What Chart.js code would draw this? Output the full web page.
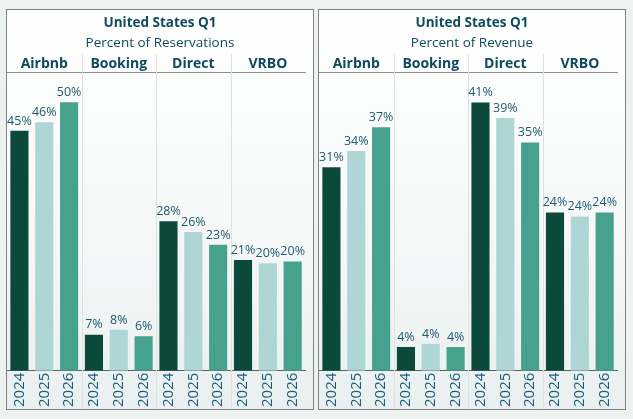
<!DOCTYPE html>
<html>
<head>
<meta charset="utf-8">
<script src="https://cdn.jsdelivr.net/npm/chart.js@4.4.1/dist/chart.umd.min.js"></script>
<style>
  html, body { margin: 0; padding: 0; }
  body { width: 633px; height: 419px; background: #edf1f0; position: relative; overflow: hidden; }
  .panel { position: absolute; top: 9px; width: 308px; height: 401px; box-sizing: border-box;
           border: 1px solid #7f8382;
           background: linear-gradient(to bottom, #ffffff 0%, #f6f8f8 55%, #e9f0ef 100%); }
  .panel canvas { display: block; }
  #p1 { left: 6px; }
  #p2 { left: 318px; }
</style>
</head>
<body>
<div class="panel" id="p1"><canvas id="c1" width="306" height="399"></canvas></div>
<div class="panel" id="p2"><canvas id="c2" width="306" height="399"></canvas></div>
<script>
// ---- data ----
const categories = ['Airbnb', 'Booking', 'Direct', 'VRBO'];
const years = ['2024', '2025', '2026'];
const chartTitle = 'United States Q1';
const subtitleReservations = 'Percent of Reservations';
const subtitleRevenue = 'Percent of Revenue';

// Percent of Reservations (per category, years 2024..2026)
const resAirbnb  = [44.6, 46.2, 49.9];
const resBooking = [6.7, 7.6, 6.4];
const resDirect  = [27.8, 25.8, 23.4];
const resVRBO    = [20.6, 20.0, 20.3];

// Percent of Revenue
const revAirbnb  = [31.0, 33.5, 37.1];
const revBooking = [3.6, 4.1, 3.6];
const revDirect  = [40.9, 38.5, 34.8];
const revVRBO    = [24.1, 23.5, 24.1];

const yearColors = ['#0b4a3b', '#aed6d5', '#47a28d'];

const FONT = "'Open Sans', 'Noto Sans', sans-serif";
const TEXT = '#0f4b5e';
const YEARTEXT = '#1a5f7e';

const dividerPlugin = {
  id: 'dividers',
  beforeDatasetsDraw(chart) {
    const x = chart.scales.x, top = chart.scales.xTop;
    const ctx = chart.ctx;
    ctx.save();
    ctx.strokeStyle = '#dde2e1';
    ctx.lineWidth = 1;
    for (let i = 1; i < categories.length; i++) {
      const px = Math.round((x.getPixelForTick(i * years.length - 1) + x.getPixelForTick(i * years.length)) / 2) + 0.5;
      ctx.beginPath();
      ctx.moveTo(px, top.top - 1);
      ctx.lineTo(px, chart.height);
      ctx.stroke();
    }
    ctx.restore();
  }
};

const valueLabelPlugin = {
  id: 'valueLabels',
  afterDatasetsDraw(chart) {
    const ctx = chart.ctx;
    const meta = chart.getDatasetMeta(0);
    const data = chart.data.datasets[0].data;
    ctx.save();
    ctx.font = "12.5px " + FONT;
    ctx.fillStyle = '#1d5a70';
    ctx.textAlign = 'center';
    ctx.textBaseline = 'bottom';
    meta.data.forEach((bar, i) => {
      ctx.fillText(Math.round(data[i]) + '%', bar.x, bar.y - 3.5);
    });
    ctx.restore();
  }
};

function makeChart(id, subtitle, groups, yMax) {
  const labels = [];
  const values = [];
  const colors = [];
  groups.forEach(g => g.forEach((v, j) => { labels.push(years[j]); values.push(v); colors.push(yearColors[j]); }));
  return new Chart(document.getElementById(id), {
    type: 'bar',
    data: {
      labels: labels,
      datasets: [{ data: values, backgroundColor: colors, borderWidth: 0,
                   barPercentage: 0.73, categoryPercentage: 1.0 }]
    },
    options: {
      responsive: false,
      animation: false,
      layout: { padding: { left: 0, right: 0, top: 0, bottom: 0 } },
      plugins: {
        legend: { display: false },
        tooltip: { enabled: false },
        title: { display: true, text: chartTitle, color: TEXT,
                 font: { family: FONT, size: 13.5, weight: 'bold' }, padding: { top: 5, bottom: 4 } },
        subtitle: { display: true, text: subtitle, color: TEXT,
                    font: { family: FONT, size: 13.5, weight: 'normal' }, padding: { top: 0, bottom: 4 } }
      },
      scales: {
        x: {
          type: 'category', position: 'bottom', offset: true,
          grid: { display: false, drawTicks: false },
          border: { display: true, color: '#5c6260', width: 1 },
          ticks: { color: YEARTEXT, font: { family: FONT, size: 15 }, minRotation: 90, maxRotation: 90,
                   autoSkip: false, padding: 2 }
        },
        xTop: {
          type: 'category', axis: 'x', position: 'top', labels: categories, offset: true,
          grid: { display: false, drawTicks: false },
          border: { display: true, color: '#8a8f8e', width: 1 },
          ticks: { color: TEXT, font: { family: FONT, size: 14, weight: 'bold' }, padding: 0 }
        },
        y: { display: false, min: 0, max: yMax }
      }
    },
    plugins: [dividerPlugin, valueLabelPlugin]
  });
}

makeChart('c1', subtitleReservations, [resAirbnb, resBooking, resDirect, resVRBO], 55.5);
makeChart('c2', subtitleRevenue, [revAirbnb, revBooking, revDirect, revVRBO], 45.5);
</script>
</body>
</html>
